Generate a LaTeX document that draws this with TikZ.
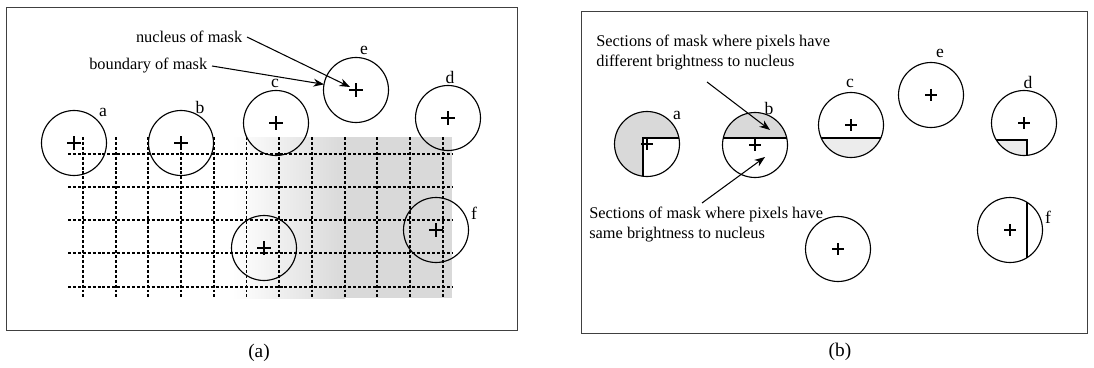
\documentclass[tikz,border=0pt]{standalone}
\usepackage{fontspec}
\setmainfont{Liberation Serif}
\usetikzlibrary{arrows.meta}

\begin{document}
\begin{tikzpicture}[x=0.02cm,y=-0.02cm,
  mask/.style={draw,circle,line width=0.65pt,minimum size=1.3cm,inner sep=0pt,outer sep=0pt},
  lbl/.style={inner sep=0pt,font=\fontsize{10}{12}\selectfont},
  panelcap/.style={inner sep=0pt,font=\fontsize{11}{13}\selectfont},
  callout/.style={inner sep=2.5pt,font=\fontsize{9.3}{11}\selectfont},
  txt/.style={inner sep=0pt,align=left,font=\fontsize{9.3}{11.2}\selectfont},
  gridline/.style={line width=1.1pt,dash pattern=on 1.7pt off 1.1pt},
  frame/.style={line width=0.5pt,black!75},
  pointer/.style={line width=0.6pt,-{Stealth[length=6pt,width=4.5pt]}},
  chord/.style={line width=1pt},
  nucleus/.pic={\draw (-6,0) -- (6,0) (0,-6) -- (0,6);}]
  \useasboundingbox (0,0) rectangle (1094,368);

  %% ---------- (a) ----------
  \draw[frame] (6,7) rectangle (517,330);
  %% grey patch under the grid
  \shade[left color=white,right color=gray!30] (232,137) rectangle (345,298);
  \fill[gray!30] (345,137) rectangle (452,298);
  %% dotted grid
  \foreach \y in {154,187,220,253,287}
    \draw[gridline] (68,\y) -- (452,\y);
  \foreach \i in {0,...,11}
    \draw[gridline] ({83+32.7*\i},137) -- ({83+32.7*\i},298);
  %% masks
  \node[mask] (la) at (74,143) {};
  \node[mask] (lb) at (181,143) {};
  \node[mask] (lc) at (276,123) {};
  \node[mask] (le) at (356,90) {};
  \node[mask] (ld) at (448,118) {};
  \node[mask] (lg) at (264,248) {};
  \node[mask] (lf) at (436,230) {};
  \foreach \n in {la,lb,lc,le,ld,lg,lf}
    \pic[line width=1pt,scale=1.15] at (\n) {nucleus};
  \node[lbl] (ta) at (103,112) {a};
  \node[lbl] (tb) at (200,107) {b};
  \node[lbl] (tc) at (275,83) {c};
  \node[lbl] (te) at (364,50) {e};
  \node[lbl] (td) at (450,77) {d};
  \node[lbl] (tf) at (474,213) {f};
  %% callouts
  \node[callout,anchor=east] (nuc) at (247,37) {nucleus of mask};
  \node[callout,anchor=east] (bnd) at (212,66) {boundary of mask};
  \draw[pointer] (nuc.east) -- ([shift={(-6,-3)}]le.center);
  \draw[pointer] (bnd.east) -- (le.170);
  \node[panelcap] (capa) at (259,353) {(a)};

  %% ---------- (b) ----------
  \draw[frame] (581,11) rectangle (1087,333);
  %% shaded sections
  \begin{scope}
    \clip (647,144) circle [radius=32.5];
    \fill[gray!30] (600,100) rectangle (700,190);
    \fill[white] (643,138) rectangle (700,190);
    \draw[chord] (700,138) -- (643,138) -- (643,190);
  \end{scope}
  \begin{scope}
    \clip (755,145) circle [radius=32.5];
    \fill[gray!30] (700,100) rectangle (800,138);
    \draw[chord] (700,138) -- (800,138);
  \end{scope}
  \begin{scope}
    \clip (851,125) circle [radius=32.5];
    \fill[gray!15] (800,138) rectangle (900,170);
    \draw[line width=0.8pt] (800,138) -- (900,138);
  \end{scope}
  \begin{scope}
    \clip (1024,123) circle [radius=32.5];
    \fill[gray!15] (980,140) rectangle (1027,170);
    \draw[line width=0.8pt] (980,140) -- (1027,140) -- (1027,170);
  \end{scope}
  \begin{scope}
    \clip (1010,230) circle [radius=32.5];
    \draw[line width=0.8pt] (1027,190) -- (1027,270);
  \end{scope}
  %% masks
  \node[mask] (ra) at (647,144) {};
  \node[mask] (rb) at (755,145) {};
  \node[mask] (rc) at (851,125) {};
  \node[mask] (re) at (931,95) {};
  \node[mask] (rd) at (1024,123) {};
  \node[mask] (rg) at (838,249) {};
  \node[mask] (rf) at (1010,230) {};
  \foreach \n in {ra,rb,rc,re,rd,rg,rf}
    \pic[line width=0.6pt] at (\n) {nucleus};
  \node[lbl] (sa) at (677,115) {a};
  \node[lbl] (sb) at (769,108) {b};
  \node[lbl] (sc) at (850,83) {c};
  \node[lbl] (se) at (940,53) {e};
  \node[lbl] (sd) at (1028,82) {d};
  \node[lbl] (sf) at (1048,217) {f};
  %% callouts
  \node[txt,anchor=north west] (diff) at (596,35)
    {Sections of mask where pixels have\\different brightness to nucleus};
  \node[txt,anchor=north west] (same) at (589,207)
    {Sections of mask where pixels have\\same brightness to nucleus};
  \coordinate (ds) at (707,82);
  \coordinate (dt) at (770,130);
  \coordinate (ss) at (702,203);
  \coordinate (st) at (765,157);
  \draw[pointer] (ds) -- (dt);
  \draw[pointer] (ss) -- (st);
  \node[panelcap] (capb) at (840,352) {(b)};
\end{tikzpicture}
\end{document}
